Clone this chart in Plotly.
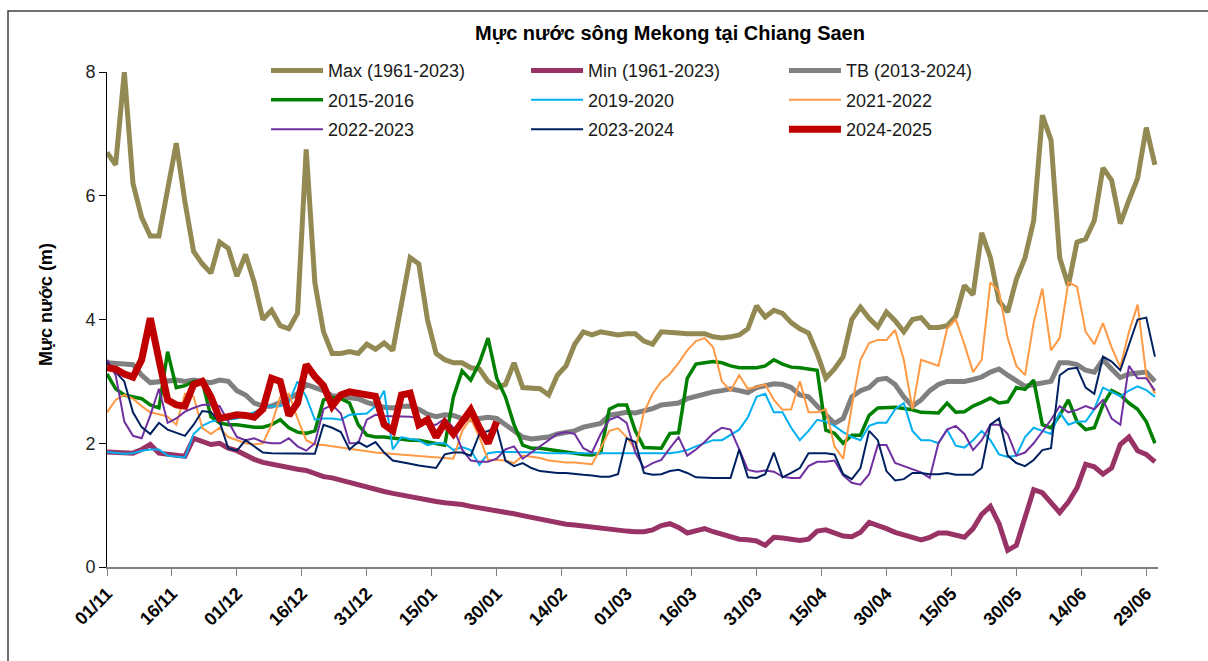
import pandas as pd
import plotly.graph_objects as go

# ---- data (every 2 days from 01/11) ----
dates = pd.date_range("2024-11-01", periods=122, freq="2D")
tick_dates = pd.date_range("2024-11-01", periods=17, freq="15D")

max_1961_2023 = [
    6.7, 6.5, 8.0, 6.2, 5.65, 5.35, 5.35, 6.05, 6.85, 5.9,
    5.1, 4.9, 4.75, 5.25, 5.15, 4.7, 5.05, 4.6, 4.0, 4.15,
    3.9, 3.85, 4.1, 6.75, 4.6, 3.8, 3.45, 3.45, 3.48, 3.45,
    3.6, 3.52, 3.62, 3.5, 4.2, 5.0, 4.9, 4.0, 3.45, 3.35,
    3.3, 3.3, 3.22, 3.2, 3.0, 2.9, 2.95, 3.3, 2.9, 2.9,
    2.88, 2.78, 3.1, 3.25, 3.6, 3.8, 3.75, 3.8, 3.77, 3.75,
    3.77, 3.77, 3.65, 3.6, 3.8, 3.78, 3.78, 3.77, 3.78, 3.77,
    3.72, 3.7, 3.72, 3.75, 3.85, 4.22, 4.04, 4.15, 4.1, 3.95,
    3.85, 3.78, 3.45, 3.05, 3.2, 3.4, 4.0, 4.2, 4.02, 3.88,
    4.12, 3.98, 3.8, 4.0, 4.03, 3.87, 3.87, 3.9, 4.05, 4.55,
    4.4, 5.4, 5.0, 4.3, 4.12, 4.65, 5.0, 5.6, 7.3, 6.9,
    5.0, 4.55, 5.25, 5.3, 5.6, 6.45, 6.25, 5.55, 5.93, 6.28,
    7.1, 6.5]

min_1961_2023 = [
    1.86, 1.85, 1.84, 1.84, 1.9, 1.98, 1.84, 1.82, 1.8, 1.79,
    2.08, 2.03, 1.98, 2.0, 1.92, 1.88, 1.8, 1.74, 1.69, 1.66,
    1.62, 1.6, 1.58, 1.56, 1.5, 1.46, 1.44, 1.4, 1.36, 1.32,
    1.28, 1.25, 1.22, 1.19, 1.16, 1.14, 1.11, 1.08, 1.06, 1.04,
    1.03, 1.01, 0.98, 0.96, 0.94, 0.92, 0.88, 0.86, 0.83, 0.8,
    0.76, 0.73, 0.71, 0.69, 0.68, 0.66, 0.65, 0.62, 0.6, 0.6,
    0.58, 0.57, 0.57, 0.6, 0.67, 0.7, 0.64, 0.55, 0.58, 0.62,
    0.57, 0.53, 0.49, 0.45, 0.44, 0.42, 0.35, 0.48, 0.47, 0.46,
    0.43, 0.45, 0.58, 0.6, 0.54, 0.5, 0.49, 0.56, 0.72, 0.68,
    0.62, 0.56, 0.52, 0.48, 0.44, 0.48, 0.55, 0.55, 0.52, 0.48,
    0.62, 0.85, 0.98, 0.7, 0.27, 0.35, 0.8, 1.25, 1.2, 1.05,
    0.88, 1.05, 1.28, 1.66, 1.62, 1.5, 1.6, 1.98, 2.1, 1.88,
    1.82, 1.7]

tb_2013_2024 = [
    3.3, 3.3, 3.28, 3.27, 3.1, 2.98, 3.0, 3.02, 3.02, 3.0,
    3.02, 3.0, 2.98, 3.02, 3.0, 2.85, 2.78, 2.65, 2.6, 2.6,
    2.65, 2.72, 2.8, 2.95, 2.9, 2.85, 2.77, 2.75, 2.75, 2.72,
    2.66, 2.62, 2.58, 2.57, 2.6, 2.6, 2.55, 2.47, 2.43, 2.46,
    2.45, 2.4, 2.38, 2.4, 2.42, 2.4, 2.3, 2.18, 2.1, 2.07,
    2.08, 2.1, 2.15, 2.18, 2.2, 2.26, 2.3, 2.32, 2.45, 2.48,
    2.5, 2.49, 2.52, 2.56, 2.62, 2.63, 2.65, 2.72, 2.76, 2.8,
    2.83, 2.85, 2.88, 2.85, 2.82, 2.9, 2.92, 2.96, 2.95, 2.9,
    2.78, 2.75, 2.6, 2.45, 2.32, 2.4, 2.75, 2.85, 2.9, 3.03,
    3.05, 2.95, 2.75, 2.6, 2.7, 2.85, 2.95, 3.0, 2.99, 3.0,
    3.03, 3.07, 3.15, 3.2, 3.1, 3.0, 2.92, 2.95, 2.97, 3.0,
    3.3, 3.3, 3.27, 3.18, 3.15, 3.35, 3.2, 3.06, 3.12, 3.14,
    3.15, 3.0]

y_2015_2016 = [
    3.12, 2.88, 2.78, 2.75, 2.72, 2.62, 2.57, 3.48, 2.9, 2.93,
    3.0, 3.0, 2.43, 2.33, 2.3, 2.3, 2.28, 2.26, 2.26, 2.3,
    2.38, 2.25, 2.18, 2.16, 2.2, 2.7, 2.74, 2.72, 2.65, 2.3,
    2.13, 2.1, 2.1, 2.08, 2.06, 2.05, 2.05, 2.02, 2.0, 1.97,
    2.75, 3.17, 3.02, 3.3, 3.7, 3.05, 2.75, 2.3, 1.97, 1.92,
    1.92, 1.9, 1.88, 1.85, 1.84, 1.82, 1.81, 1.85, 2.55, 2.62,
    2.62, 2.2, 1.93, 1.92, 1.92, 2.16, 2.17, 3.05, 3.28, 3.3,
    3.32, 3.3, 3.25, 3.22, 3.22, 3.22, 3.25, 3.35, 3.28, 3.23,
    3.22, 3.2, 3.18, 2.21, 2.16, 2.0, 2.13, 2.13, 2.45, 2.57,
    2.58, 2.58, 2.56, 2.54, 2.5, 2.49, 2.49, 2.65, 2.5, 2.51,
    2.6, 2.66, 2.73, 2.65, 2.67, 2.9, 2.87, 3.02, 2.3, 2.25,
    2.45, 2.7, 2.35, 2.22, 2.25, 2.62, 2.85, 2.78, 2.65, 2.55,
    2.35, 2.0]

y_2019_2020 = [
    1.86, 1.84, 1.83, 1.84, 1.88, 1.9, 1.9, 1.8, 1.79, 1.77,
    2.15, 2.28, 2.35, 2.38, 2.38, 2.4, 2.45, 2.5, 2.58, 2.6,
    2.6, 2.66, 3.0, 2.75, 2.38, 2.4, 2.4, 2.38, 2.46, 2.47,
    2.48, 2.6, 2.85, 1.9, 2.1, 2.07, 2.05, 1.97, 2.0, 2.0,
    1.89, 1.94, 1.89, 1.65, 1.84, 1.86, 1.86, 1.86, 1.85, 1.85,
    1.85, 1.84, 1.84, 1.84, 1.84, 1.84, 1.84, 1.84, 1.84, 1.84,
    1.84, 1.84, 1.84, 1.84, 1.84, 1.84, 1.86, 1.89, 1.95, 2.0,
    2.05, 2.05, 2.13, 2.22, 2.42, 2.75, 2.8, 2.5, 2.5, 2.25,
    2.05, 2.2, 2.38, 2.35, 2.28, 2.18, 2.1, 2.05, 2.28, 2.33,
    2.33, 2.55, 2.65, 2.2, 2.05, 2.05, 2.0, 2.22, 1.96, 1.93,
    2.05, 2.2, 2.05, 1.82, 1.78, 1.8, 2.1, 2.25, 2.2, 2.15,
    2.5, 2.3, 2.35, 2.35, 2.55, 2.9, 2.83, 2.76, 2.85, 2.92,
    2.86, 2.75]

y_2021_2022 = [
    2.5, 2.7, 2.78, 2.72, 2.6, 2.5, 2.47, 2.43, 2.3, 2.8,
    2.75, 2.25, 2.15, 2.25, 2.1, 2.05, 2.0, 1.98, 2.0, 2.3,
    2.75, 2.8, 2.4, 2.05, 1.98, 1.97, 1.95, 1.92, 1.9, 1.88,
    1.86, 1.85, 1.84, 1.83, 1.82, 1.81, 1.8, 1.79, 1.78, 1.77,
    1.75, 2.2, 2.4, 2.1, 1.73, 1.73, 1.72, 1.68, 1.8, 1.78,
    1.76, 1.72, 1.7, 1.69, 1.69, 1.67, 1.66, 1.92, 2.2, 2.24,
    2.1, 1.9, 2.5, 2.8, 3.0, 3.12, 3.3, 3.5, 3.65, 3.7,
    3.55, 3.0, 2.85, 3.1, 2.88, 2.91, 2.95, 2.7, 2.54, 2.55,
    3.0, 2.5, 2.5, 2.55, 1.95, 1.75, 2.6, 3.35, 3.62, 3.67,
    3.67, 3.83, 3.35, 2.55, 3.35, 3.3, 3.25, 3.85, 4.0, 3.6,
    3.15, 3.35, 4.6, 4.45, 3.7, 3.25, 3.1, 3.95, 4.5, 3.5,
    3.7, 4.6, 4.53, 3.8, 3.6, 3.94, 3.55, 3.23, 3.8, 4.24,
    3.1, 2.8]

y_2022_2023 = [
    3.35, 3.1, 2.35, 2.12, 2.08, 2.45, 2.88, 2.33, 2.4, 2.51,
    2.57, 2.62, 2.63, 2.6, 2.35, 2.1, 2.05, 2.08, 2.02, 2.0,
    2.0, 2.08, 1.95, 1.88, 2.0, 2.55, 2.62, 2.48, 2.0, 2.0,
    2.38, 2.46, 2.44, 2.44, 2.43, 2.43, 2.4, 2.3, 2.3, 2.4,
    2.25, 1.9, 1.72, 1.7, 1.7, 1.75, 1.9, 1.95, 1.75, 1.85,
    1.95, 2.05, 2.15, 2.18, 2.15, 1.92, 1.85, 2.15, 2.38, 2.43,
    2.33, 1.85, 1.6, 1.68, 1.73, 1.92, 2.1, 1.8, 1.9, 2.02,
    2.16, 2.25, 2.22, 1.9, 1.57, 1.54, 1.56, 1.54, 1.46, 1.44,
    1.44, 1.63, 1.7, 1.7, 1.72, 1.48, 1.36, 1.33, 1.5, 1.97,
    1.97, 1.68, 1.63, 1.58, 1.53, 1.44, 2.0, 2.22, 2.28, 2.15,
    1.89, 2.05, 2.3, 2.3, 2.15, 1.8, 1.85, 2.0, 2.18, 2.38,
    2.6, 2.5, 2.54, 2.6, 2.55, 2.7, 2.4, 2.3, 3.25, 3.05,
    3.05, 2.85]

y_2023_2024 = [
    3.3, 3.15, 3.0, 2.5, 2.26, 2.15, 2.33, 2.22, 2.17, 2.12,
    2.3, 2.52, 2.5, 2.35, 1.92, 1.88, 2.05, 1.95, 1.85, 1.84,
    1.84, 1.84, 1.84, 1.84, 1.83, 2.3, 2.25, 2.18, 1.9, 2.02,
    1.94, 2.02, 1.85, 1.72, 1.7, 1.67, 1.64, 1.62, 1.6, 1.82,
    1.85, 1.85, 1.8, 2.15, 2.2, 2.25, 1.72, 1.63, 1.68, 1.6,
    1.55, 1.53, 1.52, 1.52, 1.5, 1.49, 1.48, 1.46, 1.46, 1.5,
    2.08, 2.02, 1.52, 1.49, 1.5, 1.55, 1.57, 1.52, 1.45, 1.44,
    1.44, 1.44, 1.44, 1.9, 1.45, 1.44, 1.5, 1.85, 1.45, 1.52,
    1.6, 1.84, 1.84, 1.84, 1.82, 1.5, 1.42, 1.6, 2.2, 2.05,
    1.55, 1.4, 1.42, 1.52, 1.52, 1.5, 1.5, 1.52, 1.49, 1.49,
    1.49, 1.6, 2.3, 2.4, 1.8, 1.68, 1.63, 1.73, 1.89, 1.92,
    3.1, 3.2, 3.22, 2.9, 2.8, 3.4, 3.32, 3.18, 3.6, 4.0,
    4.03, 3.4]

y_2024_2025 = [
    3.22, 3.2, 3.12, 3.07, 3.35, 4.02, 3.35, 2.7, 2.62, 2.6,
    2.95, 3.0, 2.75, 2.4, 2.43, 2.46, 2.45, 2.42, 2.55, 3.05,
    3.0, 2.45, 2.65, 3.27, 3.08, 2.93, 2.6, 2.78, 2.83, 2.81,
    2.8, 2.76, 2.3, 2.2, 2.78, 2.81, 2.3, 2.38, 2.1, 2.33,
    2.15, 2.35, 2.54, 2.25, 2.0, 2.35]

series = [
    ("Max (1961-2023)", max_1961_2023, "#938953", 5),
    ("Min (1961-2023)", min_1961_2023, "#993366", 5),
    ("TB (2013-2024)", tb_2013_2024, "#808080", 5),
    ("2015-2016", y_2015_2016, "#008000", 3.5),
    ("2019-2020", y_2019_2020, "#00B0F0", 2),
    ("2021-2022", y_2021_2022, "#FF9944", 2),
    ("2022-2023", y_2022_2023, "#7030A0", 2),
    ("2023-2024", y_2023_2024, "#002060", 2),
    ("2024-2025", y_2024_2025, "#C00000", 7),
]

FONT = "Liberation Sans, Arial, sans-serif"
fig = go.Figure()
legend_names = ["legend", "legend2", "legend3"]
for i, (name, vals, color, w) in enumerate(series):
    fig.add_trace(go.Scatter(
        x=dates[:len(vals)], y=vals, name=name, mode="lines",
        line=dict(color=color, width=w),
        legend=legend_names[i % 3], legendgroup=name,
    ))

leg_common = dict(xanchor="left", yanchor="top", orientation="v",
                  bgcolor="rgba(0,0,0,0)", tracegroupgap=3, itemwidth=52,
                  font=dict(family=FONT, size=18, color="#1a1a1a"))
fig.update_layout(
    width=1208, height=661,
    margin=dict(l=107, r=50, t=72, b=94),
    paper_bgcolor="white", plot_bgcolor="white",
    font=dict(family=FONT, size=18, color="#1a1a1a"),
    title=dict(text="<b>Mực nước sông Mekong tại Chiang Saen</b>",
               x=670/1208, xanchor="center", y=1-33/661, yanchor="middle",
               font=dict(family=FONT, size=20, color="#000000")),
    legend=dict(x=0.1513, y=1.040, **leg_common),
    legend2=dict(x=0.3987, y=1.040, **leg_common),
    legend3=dict(x=0.6441, y=1.040, **leg_common),
    xaxis=dict(
        type="date", automargin=False,
        range=["2024-11-01", "2025-07-01 17:00"],
        tickvals=list(tick_dates), tickformat="%d/%m", tickangle=-45,
        tickfont=dict(family=FONT, size=18, color="#000000", weight="bold"),
        showgrid=False, zeroline=False,
        showline=True, linecolor="#808080", linewidth=2,
        ticks="outside", ticklen=7, tickcolor="#808080", tickwidth=1,
    ),
    yaxis=dict(
        range=[0, 8], dtick=2, tick0=0, automargin=False,
        tickfont=dict(family=FONT, size=18, color="#262626"),
        showgrid=False, zeroline=False,
        showline=True, linecolor="#000000", linewidth=1,
        ticks="outside", ticklen=7, tickcolor="#000000", tickwidth=1,
    ),
    showlegend=True,
)

fig.add_annotation(
    text="<b>Mực nước (m)</b>", textangle=-90,
    xref="paper", yref="paper", x=(46-107)/1051, y=(567-305)/495,
    xanchor="center", yanchor="middle", showarrow=False,
    font=dict(family=FONT, size=18, color="#000000"),
)

# chart-area border
fig.add_shape(type="rect", xref="paper", yref="paper",
              x0=(8-107)/1051, x1=1.2, y0=-0.3, y1=(567-11)/495,
              line=dict(color="#404040", width=1.5), layer="below")

fig.write_html("out.html", config={"displayModeBar": False},
               post_script="document.body.style.margin='0';document.body.style.overflow='hidden';")
